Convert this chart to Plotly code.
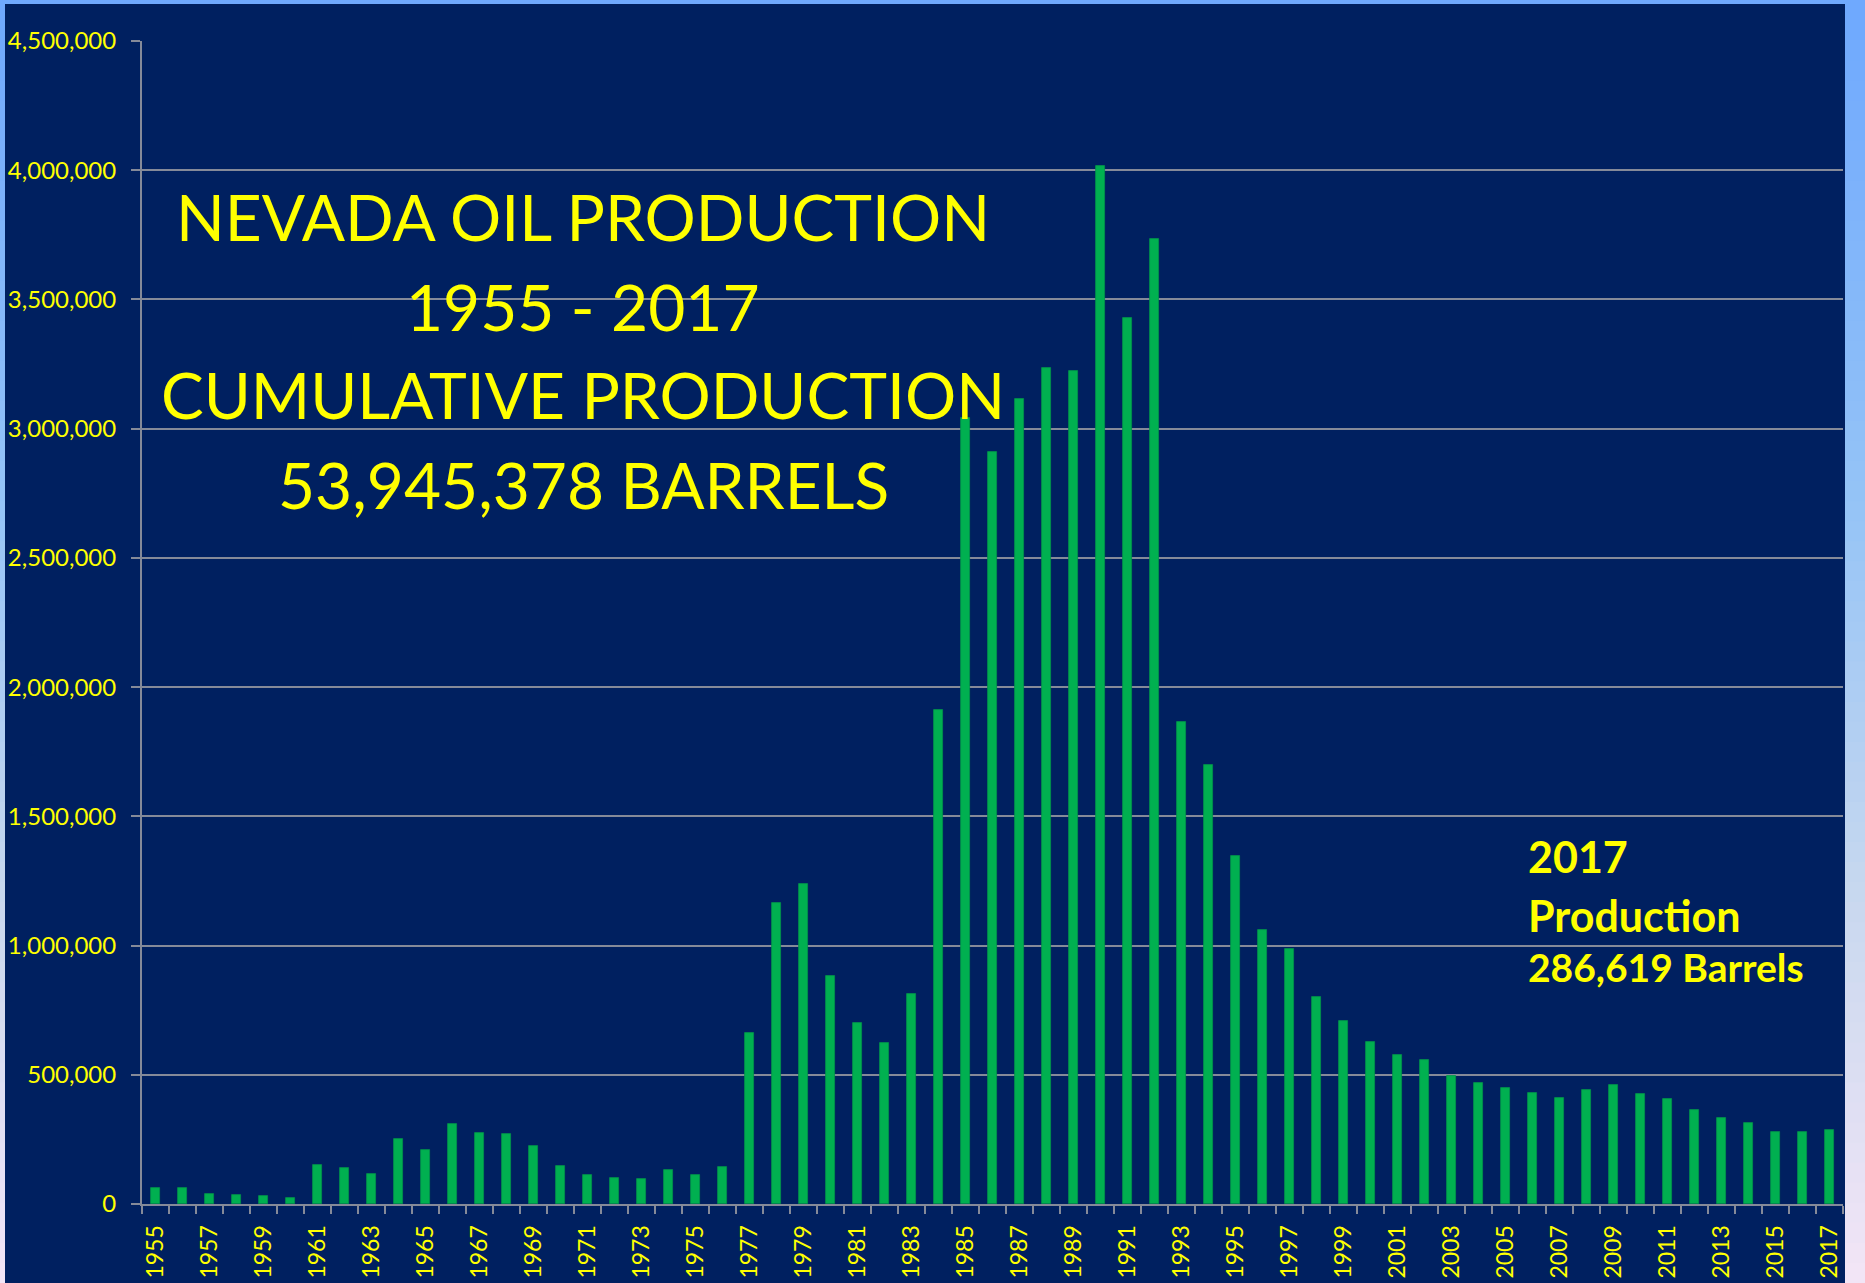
import plotly.graph_objects as go

# ---------------- data ----------------
years = list(range(1955, 2018))
production = [
    63000, 62000, 40000, 36000, 30000, 25000, 152000, 139000, 118000, 253000,
    208000, 308000, 276000, 269000, 223000, 148000, 111000, 100000, 97000, 130000,
    114000, 145000, 661000, 1164000, 1238000, 882000, 701000, 622000, 811000, 1912000,
    3043000, 2911000, 3114000, 3233000, 3222000, 4018000, 3430000, 3734000, 1865000, 1700000,
    1345000, 1059000, 986000, 801000, 709000, 626000, 575000, 558000, 496000, 468000,
    450000, 429000, 411000, 440000, 459000, 425000, 405000, 365000, 334000, 315000,
    280000, 277000, 286619,
]
tick_years = years[::2]
tick_labels = [str(y) for y in tick_years]
title_lines = ["NEVADA OIL PRODUCTION", "1955 - 2017", "CUMULATIVE PRODUCTION", "53,945,378 BARRELS"]
note_lines = ["2017", "Production", "286,619 Barrels"]

# ---------------- geometry / style ----------------
W, H = 1865, 1283
L, R, T, B = 142, 1843, 41, 1204
NAVY = "#002060"
YELLOW = "#FFFF00"
GRID = "#858a99"
FONT = "Lato"

def px(x):
    return (x - L) / (R - L)

def py(y):
    return (B - y) / (B - T)

fig = go.Figure()
fig.add_trace(go.Bar(
    x=years, y=production, width=0.34,
    marker=dict(color="#00B050", line=dict(color="#00944a", width=0.8)),
    hoverinfo="x+y",
))

# background gradient (outer frame) + navy panel
stops = [(0.0, (110, 168, 254)), (0.4, (150, 196, 246)), (0.7, (200, 216, 239)), (1.0, (243, 229, 246))]

def grad(t):
    for (t0, c0), (t1, c1) in zip(stops[:-1], stops[1:]):
        if t <= t1:
            f = (t - t0) / (t1 - t0)
            return "rgb(%d,%d,%d)" % tuple(round(a + (b - a) * f) for a, b in zip(c0, c1))
    return "rgb(%d,%d,%d)" % stops[-1][1]

shapes = []
n = 64
for i in range(n):
    y0 = H * i / n
    y1 = H * (i + 1) / n + 1
    shapes.append(dict(type="rect", xref="paper", yref="paper", layer="below",
                       x0=px(0), x1=px(W), y0=py(y1), y1=py(y0),
                       fillcolor=grad((i + 0.5) / n), line=dict(width=0)))
shapes.append(dict(type="rect", xref="paper", yref="paper", layer="below",
                   x0=px(5), x1=px(1845), y0=py(H + 2), y1=py(4),
                   fillcolor=NAVY, line=dict(width=0)))

annotations = []
title_y = [216, 306, 395, 484]
for txt, yy in zip(title_lines, title_y):
    annotations.append(dict(text=txt, xref="paper", yref="paper", x=px(583), y=py(yy),
                            xanchor="center", yanchor="middle", showarrow=False,
                            font=dict(family=FONT, size=64, color=YELLOW)))
note_y = [856, 915, 967]
note_sz = [43, 43, 39]
for txt, yy, sz in zip(note_lines, note_y, note_sz):
    annotations.append(dict(text="<b>%s</b>" % txt, xref="paper", yref="paper", x=px(1526), y=py(yy),
                            xanchor="left", yanchor="middle", showarrow=False,
                            font=dict(family=FONT, size=sz, color=YELLOW)))

boundaries = [y - 0.5 for y in years] + [years[-1] + 0.5]

fig.update_layout(
    width=W, height=H,
    margin=dict(l=L, r=W - R, t=T, b=H - B, pad=0, autoexpand=False),
    paper_bgcolor="#8fbff6",
    plot_bgcolor=NAVY,
    showlegend=False,
    bargap=0,
    shapes=shapes,
    annotations=annotations,
    font=dict(family=FONT, color=YELLOW),
    xaxis=dict(
        automargin=False,
        range=[years[0] - 0.5, years[-1] + 0.5],
        tickmode="array", tickvals=tick_years, ticktext=tick_labels,
        tickangle=-90, ticks="", showgrid=False, zeroline=False,
        tickfont=dict(family=FONT, size=23, color=YELLOW),
        showline=True, linecolor=GRID, linewidth=2,
        ticklabelstandoff=10,
        minor=dict(tickmode="array", tickvals=boundaries, ticks="outside",
                   ticklen=8, tickwidth=2, tickcolor=GRID, showgrid=False),
    ),
    yaxis=dict(
        automargin=False,
        range=[0, 4500000], dtick=500000, tick0=0, tickformat=",",
        showgrid=True, gridcolor=GRID, gridwidth=2,
        ticks="outside", ticklen=9, tickwidth=2, tickcolor=GRID,
        zeroline=False, showline=True, linecolor=GRID, linewidth=2,
        tickfont=dict(family=FONT, size=24, color=YELLOW),
        ticklabelstandoff=10,
    ),
)

fig.write_html("out.html",
               config={"displayModeBar": False},
               post_script="document.body.style.margin='0';document.body.style.overflow='hidden';")
